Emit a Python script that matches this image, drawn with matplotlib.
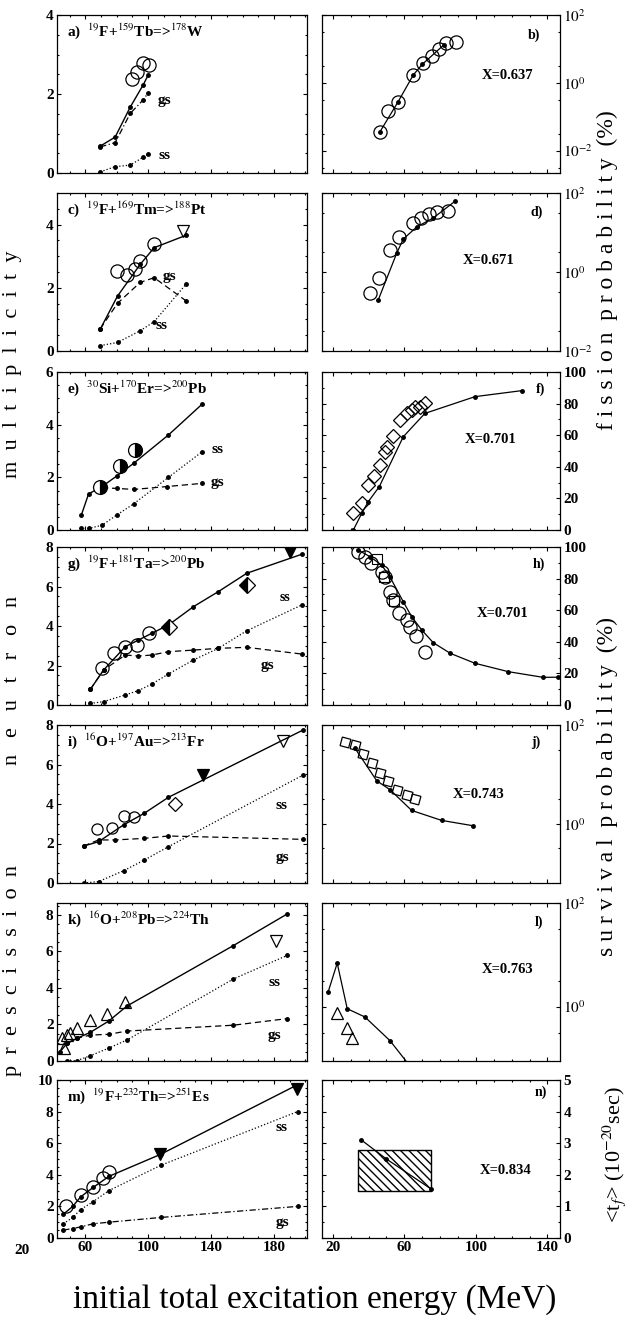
import numpy as np
import matplotlib
matplotlib.use("Agg")
import matplotlib.pyplot as plt
import matplotlib.transforms as mtransforms
from matplotlib.ticker import FixedLocator, LogLocator, NullFormatter, AutoMinorLocator

plt.rcParams['font.family'] = ['Liberation Serif', 'DejaVu Serif']
plt.rcParams['mathtext.fontset'] = 'stix'

# -----------------
# Data (energies in MeV)
# -----------------

# a) 19F+159Tb
a_x = [69.5, 79, 88.6, 96.8, 100]
a_tot = [0.68, 0.91, 1.67, 2.23, 2.48]
a_gs = [0.66, 0.77, 1.51, 1.85, 2.03]
a_ss = [0.03, 0.16, 0.20, 0.40, 0.48]
a_exp_x = [89.6, 92.8, 97, 100.6]
a_exp_y = [2.37, 2.56, 2.78, 2.73]

# b) fission probability 19F+159Tb
b_x = [46.4, 56.6, 65, 70, 82]
b_y = [0.036, 0.28, 1.7, 3.5, 13]
b_exp_x = [46.4, 51, 56.6, 65, 70.3, 75.3, 79.5, 83.3, 88.9]
b_exp_y = [0.036, 0.145, 0.28, 1.7, 3.9, 6.3, 10.2, 14.7, 15.8]

# c) 19F+169Tm
c_x = [69.5, 80.5, 94.9, 103.8, 124]
c_tot = [0.69, 1.74, 2.74, 3.27, 3.66]
c_gs = [0.70, 1.51, 2.17, 2.32, 1.59]
c_ss = [0.17, 0.27, 0.64, 0.93, 2.11]
c_exp_x = [80, 86.5, 91.7, 94.9, 103.4]
c_exp_y = [2.53, 2.41, 2.61, 2.85, 3.38]
c_tri_x = [122]
c_tri_y = [3.8]

# d) fission probability 19F+169Tm
d_x = [45.5, 55.7, 59.4, 66.9, 76.2, 88.3]
d_y = [0.2, 2.95, 6.8, 13.8, 23.4, 61.7]
d_exp_x = [40.8, 45.8, 52, 57, 64.7, 69.1, 74, 78.4, 84.5]
d_exp_y = [0.30, 0.72, 3.6, 7.8, 17, 23.4, 28.8, 33.1, 35.5]

# e) 30Si+170Er
e_x = [57.5, 62.1, 70.6, 80, 90.7, 112.9, 134.5]
e_tot = [0.57, 1.37, 1.65, 2.05, 2.53, 3.61, 4.79]
e_gs_x = [70.6, 80, 90.7, 111.9, 134.1]
e_gs = [1.60, 1.58, 1.54, 1.65, 1.77]
e_ss = [0.06, 0.06, 0.18, 0.57, 0.99, 2.0, 2.98]
e_exp_x = [69.5, 81.8, 91.7]
e_exp_y = [1.65, 2.43, 3.04]

# f) fission probability 30Si+170Er
f_x = [31.5, 36.2, 39.9, 46, 59.4, 71.5, 99.5, 125.6]
f_y = [0, 10.5, 18, 27.4, 59, 73.8, 84.4, 88.2]
f_exp_x = [31.5, 36.2, 39.9, 43.1, 46.4, 49.2, 50.5, 53.4, 57.6, 61.3, 64.1, 66, 68.7, 71.5]
f_exp_y = [10.5, 16.9, 28.5, 34, 41, 49.6, 52.7, 59.5, 69.6, 73.8, 75.9, 77.6, 78, 80.2]

# g) 19F+181Ta
g_x = [63.2, 71.6, 85.4, 93.8, 102.3, 112.9, 128.8, 144.6, 162.7, 197.6]
g_tot = [0.79, 1.77, 2.95, 3.29, 3.63, 4.05, 4.98, 5.74, 6.67, 7.63]
g_gs = [0.79, 1.77, 2.53, 2.48, 2.53, 2.70, 2.78, 2.87, 2.92, 2.58]
g_ss = [0.08, 0.17, 0.51, 0.73, 1.06, 1.57, 2.28, 2.87, 3.76, 5.06]
g_exp_x = [70.6, 78, 85.4, 92.8, 100.8]
g_exp_y = [1.86, 2.65, 2.92, 3.04, 3.66]
g_dia_x = [113.5, 163.1]
g_dia_y = [3.96, 6.08]
g_tri_x = [190.2]
g_tri_y = [7.76]

# h) survival probability 19F+181Ta
h_x = [34.3, 40.8, 47.3, 51.9, 59.4, 64.1, 69.7, 76.2, 85.7, 99.5, 118.1, 137.6, 146]
h_y = [98, 93.9, 88.6, 81.2, 65.4, 55.9, 47.5, 39.4, 32.7, 26.4, 21.1, 17.5, 17.6]
h_exp_x = [34.3, 37.8, 41.5, 47.3, 49.2, 51.9, 53.7, 57.1, 61.3, 63.2, 66.5, 71.5]
h_exp_y = [97, 93.9, 89.7, 84.4, 81.2, 71.7, 66.5, 58, 53.8, 49.6, 43.7, 33.8]
h_sq_x = [44.5, 48.4, 54]
h_sq_y = [92.5, 81.2, 66]

# i) 16O+197Au
i_x = [58.9, 68.4, 84.3, 97.5, 112.9, 198.6]
i_tot = [1.87, 2.09, 2.94, 3.53, 4.34, 7.75]
i_gs_x = [58.9, 68.4, 79, 97.5, 112.9, 198.6]
i_gs = [1.87, 2.18, 2.18, 2.26, 2.38, 2.21]
i_ss = [0.0, 0.07, 0.62, 1.16, 1.84, 5.47]
i_exp_x = [67.4, 77, 84.3, 90.7]
i_exp_y = [2.72, 2.76, 3.39, 3.35]
i_dia_x = [117.1]
i_dia_y = [3.99]
i_ftri_x = [134.7]
i_ftri_y = [5.47]
i_otri_x = [185.5]
i_otri_y = [7.2]

# j) survival probability 16O+197Au
j_x = [32.4, 44.6, 52, 64.1, 80.8, 98.5]
j_y = [33.9, 7.4, 4.9, 1.86, 1.17, 0.91]
j_exp_x = [26.8, 32.4, 37.1, 41.8, 46.4, 51, 55.7, 61.3, 66]
j_exp_y = [45.7, 38.9, 25.7, 17, 10.7, 7.2, 4.9, 3.9, 3.1]

# k) 16O+208Pb
k_x = [44.1, 48.4, 54.7, 63.2, 74.8, 86.5, 154.2, 188.4]
k_tot = [0.52, 0.97, 1.24, 1.57, 2.18, 3.01, 6.32, 8.05]
k_gs_x = [48.4, 54.7, 63.2, 74.8, 86.5, 154.2, 188.4]
k_gs = [0.97, 1.24, 1.42, 1.46, 1.64, 1.96, 2.32]
k_ss_x = [48.4, 54.7, 63.2, 74.8, 86.5, 154.2, 188.4]
k_ss = [0.0, 0.02, 0.29, 0.70, 1.15, 4.49, 5.78]
k_exp_x = [46.2, 45.2, 48.4, 50.5, 54.7, 62.7, 73.8, 85.4]
k_exp_y = [0.70, 1.24, 1.42, 1.51, 1.78, 2.23, 2.59, 3.23]
k_tri_x = [181.3]
k_tri_y = [6.56]

# l) survival probability 16O+208Pb
l_x = [17.5, 22.5, 28.1, 38, 52, 62]
l_y = [1.95, 6.9, 0.91, 0.63, 0.22, 0.08]
l_exp_x = [22.5, 27.8, 31]
l_exp_y = [0.74, 0.38, 0.25]

# m) 19F+232Th
m_x = [46, 52, 57, 65, 75, 108, 195]
m_tot = [1.5, 2.0, 2.6, 3.2, 3.9, 5.3, 9.7]
m_gs = [0.5, 0.6, 0.7, 0.9, 1.0, 1.3, 2.0]
m_ss = [0.9, 1.3, 1.8, 2.3, 3.0, 4.6, 8.0]
m_exp_x = [48, 57, 65, 71, 75]
m_exp_y = [2.0, 2.7, 3.2, 3.8, 4.2]
m_tri_x = [107.6, 194.6]
m_tri_y = [5.3, 9.4]

# n) fission time
n_x = [36, 50, 75]
n_y = [3.1, 2.5, 1.55]
n_box_x = [34, 75]
n_box_y = [1.5, 2.8]

# -----------------
# Layout
# -----------------

fig = plt.figure(figsize=(6.29, 13.28), dpi=100)
W, H = 629, 1328
row_tops = [15, 193, 372, 547, 725, 903, 1080]
ph = 158

def make_ax(col, row):
    if col == 0:
        x0, w = 57, 250
    else:
        x0, w = 322, 238
    top = row_tops[row]
    return fig.add_axes([x0 / W, 1 - (top + ph) / H, w / W, ph / H])

def style(ax, right=False, bottom=False):
    ax.tick_params(which='both', direction='in', top=True, right=True, left=True,
                   labelsize=11, width=0.8)
    ax.tick_params(which='major', length=3, pad=2.5)
    ax.tick_params(which='minor', length=1.5)
    ax.tick_params(labelbottom=bottom, labelleft=not right, labelright=right)
    for lab in ax.get_yticklabels() + ax.get_xticklabels():
        lab.set_fontweight('bold')
    for s in ax.spines.values():
        s.set_linewidth(0.9)

def left_panel(row, ymax, yticks, title, x, tot, gsx, gs, ssx, ss, gs_ls='--'):
    ax = make_ax(0, row)
    ax.plot(x, tot, '-', color='black', lw=1, marker='o', ms=2.5)
    ax.plot(gsx, gs, linestyle=gs_ls, color='black', lw=0.9, marker='o', ms=2.5,
            dashes=(5, 3) if gs_ls == '--' else (5, 2, 1, 2))
    ax.plot(ssx, ss, linestyle=':', color='black', lw=0.9, marker='o', ms=2.5)
    ax.set_xlim(42, 201)
    ax.set_ylim(0, ymax)
    ax.xaxis.set_major_locator(FixedLocator([60, 100, 140, 180]))
    ax.xaxis.set_minor_locator(AutoMinorLocator(4))
    ax.yaxis.set_major_locator(FixedLocator(yticks))
    ax.yaxis.set_minor_locator(AutoMinorLocator(4))
    ax.text(0.04, 0.9, title, transform=ax.transAxes, fontsize=11, fontweight='bold',
            ha='left', va='center')
    return ax

def lab(ax, s, x, y, size=11):
    ax.text(x, y, s, transform=ax.transAxes, fontsize=size, fontweight='bold',
            ha='center', va='center')

def right_panel(row, letter, xval, xy_letter, xy_x, log=None, ylim=(0, 100), yticks=None):
    ax = make_ax(1, row)
    ax.set_xlim(14, 147)
    ax.xaxis.set_major_locator(FixedLocator([20, 60, 100, 140]))
    ax.xaxis.set_minor_locator(AutoMinorLocator(4))
    if log:
        ax.set_yscale('log')
        ax.yaxis.set_major_locator(FixedLocator(yticks))
        ax.yaxis.set_minor_locator(LogLocator(base=10, subs=(10 ** 0.5,), numticks=20))
        ax.yaxis.set_minor_formatter(NullFormatter())
        ax.set_yticklabels([r'$10^{%d}$' % int(np.log10(t)) for t in yticks])
    else:
        ax.yaxis.set_major_locator(FixedLocator(yticks))
        ax.yaxis.set_minor_locator(AutoMinorLocator(2))
    ax.set_ylim(*ylim)
    lab(ax, letter, *xy_letter, size=10)
    if xval:
        ax.text(xy_x[0], xy_x[1], xval, transform=ax.transAxes, fontsize=10.5,
                fontweight='bold', ha='center', va='center')
    return ax

circ = dict(marker='o', ms=9.5, mfc='none', mec='black', mew=0.9, ls='none')
dia = dict(marker='D', ms=7, mfc='none', mec='black', mew=0.9, ls='none')
sq = dict(marker='s', ms=7, mfc='none', mec='black', mew=0.8, ls='none')
tri_up = dict(marker='^', ms=9, mfc='none', mec='black', mew=0.9, ls='none')
tri_dn = dict(marker='v', ms=9, mfc='none', mec='black', mew=0.9, ls='none')
tri_dn_f = dict(marker='v', ms=9, mfc='black', mec='black', mew=0.9, ls='none')
half_c = dict(marker='o', ms=10, mfc='black', mfcalt='white', fillstyle='right',
              mec='black', mew=0.9, ls='none')
half_d = dict(marker='D', ms=8, mfc='black', mfcalt='white', fillstyle='left',
              mec='black', mew=0.9, ls='none')
line = dict(color='black', lw=0.9, marker='o', ms=2.5)

# ----- row 1
ax = left_panel(0, 4, [0, 2, 4], r'a)  $^{19}$F+$^{159}$Tb=>$^{178}$W',
                a_x, a_tot, a_x, a_gs, a_x, a_ss, gs_ls='-.')
ax.plot(a_exp_x, a_exp_y, **circ)
lab(ax, 'gs', 0.43, 0.46); lab(ax, 'ss', 0.43, 0.11)
style(ax)

ax = right_panel(0, 'b)', 'X=0.637', (0.89, 0.87), (0.78, 0.62), log=True,
                 ylim=(10 ** -2.66, 100), yticks=[1e-2, 1, 1e2])
ax.plot(b_x, b_y, **line)
ax.plot(b_exp_x, b_exp_y, **circ)
style(ax, right=True)

# ----- row 2
ax = left_panel(1, 5, [0, 2, 4], r'c)  $^{19}$F+$^{169}$Tm=>$^{188}$Pt',
                c_x, c_tot, c_x, c_gs, c_x, c_ss)
ax.plot(c_exp_x, c_exp_y, **circ)
ax.plot(c_tri_x, c_tri_y, **tri_dn)
lab(ax, 'gs', 0.45, 0.47); lab(ax, 'ss', 0.42, 0.16)
style(ax)

ax = right_panel(1, 'd)', 'X=0.671', (0.9, 0.88), (0.70, 0.57), log=True,
                 ylim=(1e-2, 100), yticks=[1e-2, 1, 1e2])
ax.plot(d_x, d_y, **line)
ax.plot(d_exp_x, d_exp_y, **circ)
style(ax, right=True)

# ----- row 3
ax = left_panel(2, 6, [0, 2, 4, 6], r'e)  $^{30}$Si+$^{170}$Er=>$^{200}$Pb',
                e_x, e_tot, e_gs_x, e_gs, e_x, e_ss)
ax.plot(e_exp_x, e_exp_y, **half_c)
lab(ax, 'ss', 0.64, 0.51); lab(ax, 'gs', 0.64, 0.30)
style(ax)

ax = right_panel(2, 'f)', 'X=0.701', (0.92, 0.89), (0.71, 0.57),
                 ylim=(0, 100), yticks=[0, 20, 40, 60, 80, 100])
ax.plot(f_x, f_y, **line)
ax.plot(f_exp_x, f_exp_y, **dia)
style(ax, right=True)

# ----- row 4
ax = left_panel(3, 8, [0, 2, 4, 6, 8], r'g)  $^{19}$F+$^{181}$Ta=>$^{200}$Pb',
                g_x, g_tot, g_x, g_gs, g_x, g_ss)
ax.plot(g_exp_x, g_exp_y, **circ)
ax.plot(g_dia_x, g_dia_y, **half_d)
ax.plot(g_tri_x, g_tri_y, **tri_dn_f)
lab(ax, 'ss', 0.91, 0.68, size=10); lab(ax, 'gs', 0.84, 0.25)
style(ax)

ax = right_panel(3, 'h)', 'X=0.701', (0.91, 0.89), (0.76, 0.58),
                 ylim=(0, 100), yticks=[0, 20, 40, 60, 80, 100])
ax.plot(h_x, h_y, **line)
ax.plot(h_exp_x, h_exp_y, **circ)
ax.plot(h_sq_x, h_sq_y, **sq)
style(ax, right=True)

# ----- row 5
ax = left_panel(4, 8, [0, 2, 4, 6, 8], r'i)  $^{16}$O+$^{197}$Au=>$^{213}$Fr',
                i_x, i_tot, i_gs_x, i_gs, i_x, i_ss)
ax.plot(i_exp_x, i_exp_y, **dict(circ, ms=8))
ax.plot(i_dia_x, i_dia_y, **dia)
ax.plot(i_ftri_x, i_ftri_y, **tri_dn_f)
ax.plot(i_otri_x, i_otri_y, **tri_dn)
lab(ax, 'ss', 0.90, 0.49); lab(ax, 'gs', 0.90, 0.16)
style(ax)

ax = right_panel(4, 'j)', 'X=0.743', (0.90, 0.89), (0.66, 0.56), log=True,
                 ylim=(10 ** -1.2, 100), yticks=[1, 1e2])
ax.plot(j_x, j_y, **line)
ax.plot(j_exp_x, j_exp_y, **dict(dia, marker=(4, 0, 30), ms=9))
style(ax, right=True)

# ----- row 6
ax = left_panel(5, 8.65, [0, 2, 4, 6, 8], r'k)  $^{16}$O+$^{208}$Pb=>$^{224}$Th',
                k_x, k_tot, k_gs_x, k_gs, k_ss_x, k_ss)
ax.plot(k_exp_x, k_exp_y, **tri_up)
ax.plot(k_tri_x, k_tri_y, **tri_dn)
lab(ax, 'ss', 0.87, 0.50); lab(ax, 'gs', 0.87, 0.16)
style(ax)

ax = right_panel(5, 'l)', 'X=0.763', (0.91, 0.88), (0.78, 0.58), log=True,
                 ylim=(10 ** -1.05, 100), yticks=[1, 1e2])
ax.plot(l_x, l_y, **line)
ax.plot(l_exp_x, l_exp_y, **tri_up)
style(ax, right=True)

# ----- row 7
ax = left_panel(6, 10, [0, 2, 4, 6, 8, 10], r'm)  $^{19}$F+$^{232}$Th=>$^{251}$Es',
                m_x, m_tot, m_x, m_gs, m_x, m_ss, gs_ls='-.')
ax.plot(m_exp_x, m_exp_y, **circ)
ax.plot(m_tri_x, m_tri_y, **tri_dn_f)
lab(ax, 'ss', 0.90, 0.70); lab(ax, 'gs', 0.90, 0.10)
style(ax, bottom=True)
# the "20" label of the reference sits left of the frame
trans = mtransforms.blended_transform_factory(ax.transData, ax.transAxes)
ax.text(20, -0.035, '20', transform=trans, fontsize=11, fontweight='bold',
        ha='center', va='top', clip_on=False)

ax = right_panel(6, 'n)', 'X=0.834', (0.92, 0.92), (0.77, 0.43),
                 ylim=(0, 5), yticks=[0, 1, 2, 3, 4, 5])
ax.fill_between(n_box_x, n_box_y[0], n_box_y[1], facecolor='white',
                edgecolor='black', hatch='\\\\\\\\', lw=1)
ax.plot(n_x, n_y, **line)
style(ax, right=True, bottom=True)

# -----------------
# Axis labels
# -----------------

def spaced(word, gap):
    return (' ' * gap).join(word)

for word, yc, gap in [('multiplicity', 364, 2), ('neutron', 680, 3), ('prescission', 970, 2)]:
    fig.text(13 / W, 1 - yc / H, spaced(word, gap), rotation=90, fontsize=16,
             ha='center', va='center')

fig.text(607 / W, 1 - 270 / H,
         'f i s s i o n  p r o b a b i l i t y  (%)',
         rotation=90, fontsize=17, ha='center', va='center')
fig.text(607 / W, 1 - 787 / H,
         's u r v i v a l  p r o b a b i l i t y  (%)',
         rotation=90, fontsize=17, ha='center', va='center')
fig.text(614 / W, 1 - 1155 / H, r'<t$_f$> (10$^{-20}$sec)',
         rotation=90, fontsize=16, ha='center', va='center')
fig.text(0.5, 1 - 1300 / H, 'initial total excitation energy (MeV)',
         fontsize=24, ha='center', va='center')

fig.savefig('out.png', dpi=100)
